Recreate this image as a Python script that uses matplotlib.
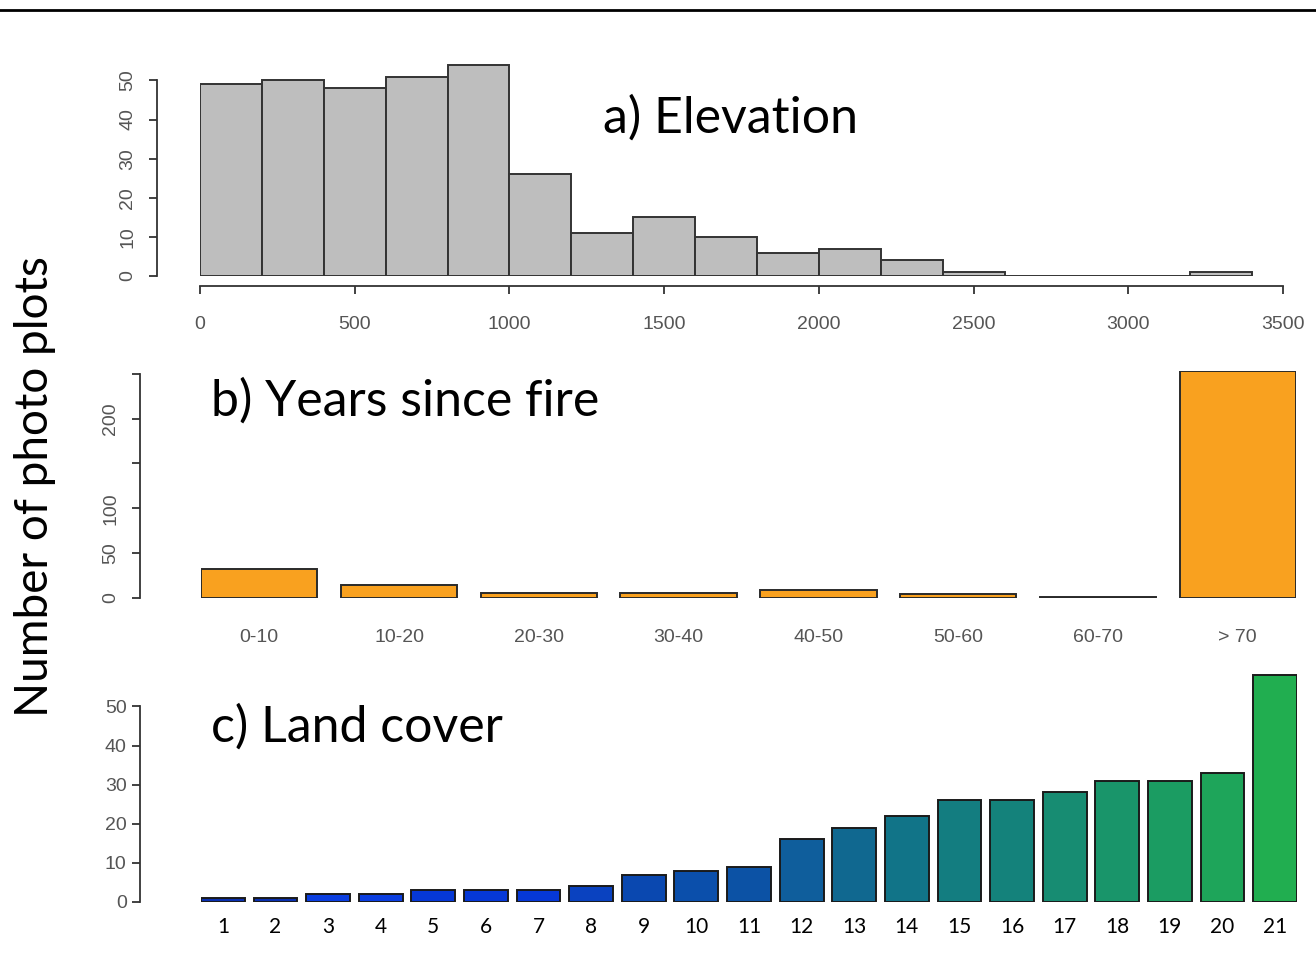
import matplotlib.pyplot as plt
from matplotlib.lines import Line2D

# a) elevation histogram, 200 m bins
elev_edges = [0, 200, 400, 600, 800, 1000, 1200, 1400, 1600, 1800, 2000,
              2200, 2400, 2600, 2800, 3000, 3200, 3400]
elev_counts = [49, 50, 48, 51, 54, 26, 11, 15, 10, 6, 7, 4, 1, 0, 0, 0, 1]

# b) years since fire
fire_labels = ['0-10', '10-20', '20-30', '30-40', '40-50', '50-60', '60-70', '> 70']
fire_counts = [32, 15, 6, 6, 9, 4, 1, 253]

# c) land cover classes
cover_labels = [str(i) for i in range(1, 22)]
cover_counts = [1, 1, 2, 2, 3, 3, 3, 4, 7, 8, 9, 16, 19, 22, 26, 26, 28, 31, 31, 33, 58]
cover_colors = ['#0a30b0', '#0a30b0', '#0b3ee0', '#0b3ee0', '#0638d6', '#0638d6',
                '#0638d6', '#0a42c0', '#0a48b0', '#0b4fab', '#0c52a5', '#0f5e9c',
                '#106890', '#117488', '#137d80', '#14827b', '#178c72', '#19956a',
                '#1b9c62', '#1ea55a', '#21ae50']

W, H = 1316, 966
fig = plt.figure(figsize=(W / 100, H / 100), dpi=100)

TITLE_FONT = ['Lato', 'DejaVu Sans']
TICK_FONT = ['Liberation Sans', 'DejaVu Sans']
GREY = '#555555'


def px_axes(x0, y_top, x1, y_bot):
    return fig.add_axes([x0 / W, (H - y_bot) / H, (x1 - x0) / W, (y_bot - y_top) / H])


def r_style(ax, yout):
    for s in ['top', 'right', 'bottom']:
        ax.spines[s].set_visible(False)
    ax.spines['left'].set_position(('outward', yout))
    ax.spines['left'].set_color('#333333')
    ax.spines['left'].set_linewidth(1.3)
    ax.tick_params(axis='y', length=6, width=1.3, color='#333333', labelcolor=GREY)


def fig_label(x, y, s, **kw):
    # x, y in pixels from top-left
    fig.text(x / W, (H - y) / H, s, family=TITLE_FONT, **kw)


# top border line
fig.add_artist(Line2D([0, 1], [1 - 10 / H, 1 - 10 / H], color='black', lw=2))

# panel a
ax1 = px_axes(200, 64, 1283, 276)
ax1.bar(elev_edges[:-1], elev_counts, width=200, align='edge',
        color='#bebebe', edgecolor='#333333', linewidth=1.4)
ax1.set_xlim(0, 3500)
ax1.set_ylim(0, 54.2)
r_style(ax1, 31)
ax1.spines['bottom'].set_visible(True)
ax1.spines['bottom'].set_position(('outward', 7))
ax1.spines['bottom'].set_bounds(0, 3500)
ax1.spines['bottom'].set_color('#333333')
ax1.spines['bottom'].set_linewidth(1.3)
ax1.spines['left'].set_bounds(0, 50)
ax1.set_yticks([0, 10, 20, 30, 40, 50])
ax1.set_xticks([0, 500, 1000, 1500, 2000, 2500, 3000, 3500])
ax1.tick_params(axis='x', length=6, width=1.3, color='#333333', labelcolor=GREY, pad=16)
for t in ax1.get_xticklabels():
    t.set_fontfamily(TICK_FONT)
    t.set_fontsize(14)
for t in ax1.get_yticklabels():
    t.set_fontfamily(TICK_FONT)
    t.set_fontsize(14)
    t.set_rotation(90)
    t.set_va('center')
ax1.tick_params(axis='y', pad=9)

# panel b
ax2 = px_axes(201, 371, 1296, 598)
xb = [i * 1.2 for i in range(len(fire_counts))]
ax2.bar(xb, fire_counts, width=1.0, align='edge',
        color='#f9a11f', edgecolor='#2a2a2a', linewidth=1.4)
ax2.set_xlim(0, xb[-1] + 1.0)
ax2.set_ylim(0, 253)
r_style(ax2, 44)
ax2.spines['left'].set_bounds(0, 250)
ax2.set_yticks([0, 50, 100, 150, 200, 250])
ax2.set_yticklabels(['0', '50', '100', '', '200', ''])
ax2.set_xticks([x + 0.5 for x in xb])
ax2.set_xticklabels(fire_labels)
ax2.tick_params(axis='x', length=0, labelcolor=GREY, pad=22)
for t in ax2.get_xticklabels():
    t.set_fontfamily(TICK_FONT)
    t.set_fontsize(14)
for t in ax2.get_yticklabels():
    t.set_fontfamily(TICK_FONT)
    t.set_fontsize(14)
    t.set_rotation(90)
    t.set_va('center')
ax2.tick_params(axis='y', pad=9)

# panel c
ax3 = px_axes(201, 674, 1297, 902)
xc = [i * 1.2 for i in range(len(cover_counts))]
ax3.bar(xc, cover_counts, width=1.0, align='edge',
        color=cover_colors, edgecolor='#1a1a1a', linewidth=1.4)
ax3.set_xlim(0, xc[-1] + 1.0)
ax3.set_ylim(0, 58.3)
r_style(ax3, 44)
ax3.spines['left'].set_bounds(0, 50)
ax3.set_yticks([0, 10, 20, 30, 40, 50])
ax3.set_xticks([x + 0.5 for x in xc])
ax3.set_xticklabels(cover_labels)
ax3.tick_params(axis='x', length=0, labelcolor='black', pad=11)
for t in ax3.get_xticklabels():
    t.set_fontfamily(TITLE_FONT)
    t.set_fontsize(15)
for t in ax3.get_yticklabels():
    t.set_fontfamily(TICK_FONT)
    t.set_fontsize(14)

fig_label(603, 118, 'a) Elevation', fontsize=36, va='center', ha='left')
fig_label(211, 401, 'b) Years since fire', fontsize=36, va='center', ha='left')
fig_label(211, 727, 'c) Land cover', fontsize=36, va='center', ha='left')
fig_label(35, 487, 'Number of photo plots', fontsize=33, rotation=90,
          va='center', ha='center')

fig.savefig('out.png', dpi=100)
